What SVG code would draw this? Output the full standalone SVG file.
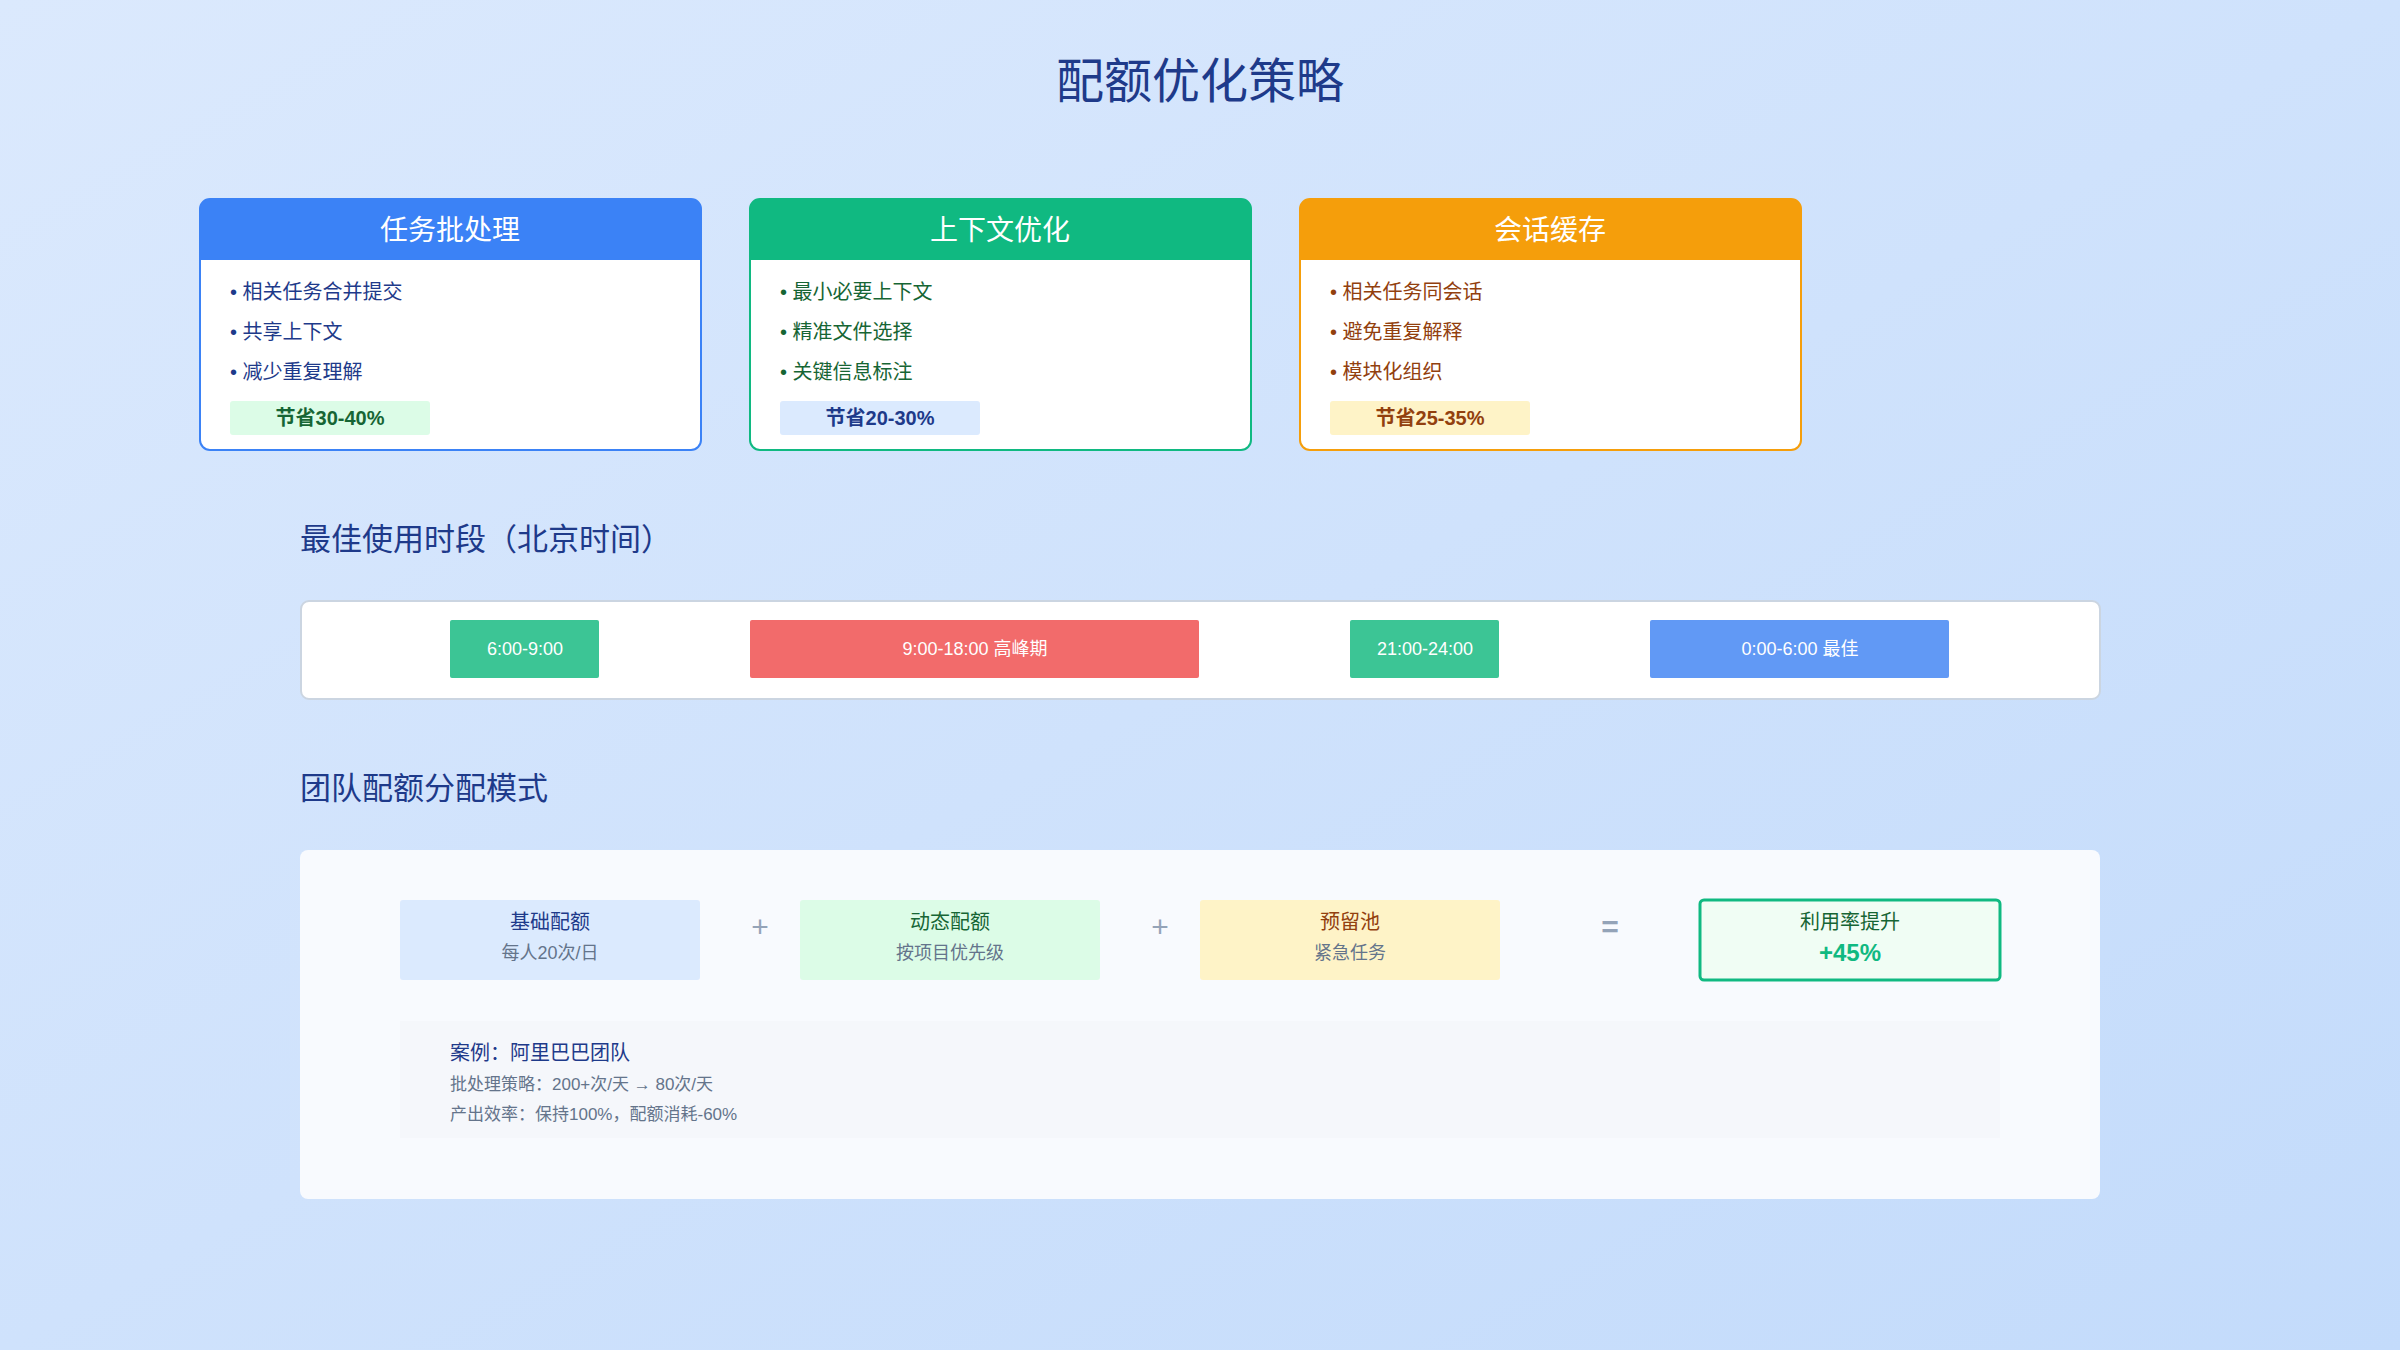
<svg xmlns="http://www.w3.org/2000/svg" width="2400" height="1350" viewBox="0 0 2400 1350">
<defs>
<linearGradient id="bg" x1="0" y1="0" x2="1" y2="1"><stop offset="0" stop-color="#dbe9fd"/><stop offset="1" stop-color="#c3dbfb"/></linearGradient>
<style>
text{font-family:"Liberation Sans","Noto Sans CJK SC",sans-serif}
.h{font-size:28px;fill:#fff;text-anchor:middle}
.b{font-size:20px}
.badge{font-size:20px;font-weight:bold;text-anchor:middle}
.sec{font-size:31px;fill:#1e3a8a}
.bar{font-size:18px;fill:#fff;text-anchor:middle}
.t1{font-size:20px;text-anchor:middle}
.t2{font-size:18px;fill:#64748b;text-anchor:middle}
.op{font-size:30px;fill:#94a3b8;text-anchor:middle}
</style>
</defs>
<rect width="2400" height="1350" fill="url(#bg)"/>
<text x="1200" y="98" font-size="48" fill="#1e3a8a" text-anchor="middle">配额优化策略</text>

<g id="card1">
<rect x="200" y="199" width="501" height="251" rx="10" fill="#fff" stroke="#3b82f6" stroke-width="2"/>
<path d="M200 260V209a10 10 0 0 1 10-10h481a10 10 0 0 1 10 10v51z" fill="#3b82f6"/>
<text class="h" x="450" y="240">任务批处理</text>
<g class="b" fill="#1e3a8a"><text x="230" y="299">• 相关任务合并提交</text><text x="230" y="339">• 共享上下文</text><text x="230" y="379">• 减少重复理解</text></g>
<rect x="230" y="401" width="200" height="34" rx="3" fill="#dcfce7"/>
<text class="badge" x="330" y="425" fill="#166534">节省30-40%</text>
</g>
<g id="card2">
<rect x="750" y="199" width="501" height="251" rx="10" fill="#fff" stroke="#10b981" stroke-width="2"/>
<path d="M750 260V209a10 10 0 0 1 10-10h481a10 10 0 0 1 10 10v51z" fill="#10b981"/>
<text class="h" x="1000" y="240">上下文优化</text>
<g class="b" fill="#166534"><text x="780" y="299">• 最小必要上下文</text><text x="780" y="339">• 精准文件选择</text><text x="780" y="379">• 关键信息标注</text></g>
<rect x="780" y="401" width="200" height="34" rx="3" fill="#dbeafe"/>
<text class="badge" x="880" y="425" fill="#1e3a8a">节省20-30%</text>
</g>
<g id="card3">
<rect x="1300" y="199" width="501" height="251" rx="10" fill="#fff" stroke="#f59e0b" stroke-width="2"/>
<path d="M1300 260V209a10 10 0 0 1 10-10h481a10 10 0 0 1 10 10v51z" fill="#f59e0b"/>
<text class="h" x="1550" y="240">会话缓存</text>
<g class="b" fill="#92400e"><text x="1330" y="299">• 相关任务同会话</text><text x="1330" y="339">• 避免重复解释</text><text x="1330" y="379">• 模块化组织</text></g>
<rect x="1330" y="401" width="200" height="34" rx="3" fill="#fef3c7"/>
<text class="badge" x="1430" y="425" fill="#92400e">节省25-35%</text>
</g>

<text class="sec" x="300" y="550">最佳使用时段（北京时间）</text>
<g id="timeline">
<rect x="301" y="601" width="1799" height="98" rx="8" fill="#fff" stroke="#cbd5e1" stroke-width="2"/>
<rect x="450" y="620" width="149" height="58" rx="2" fill="#3cc595"/><text class="bar" x="525" y="655">6:00-9:00</text>
<rect x="750" y="620" width="449" height="58" rx="2" fill="#f26b6b"/><text class="bar" x="975" y="655">9:00-18:00 高峰期</text>
<rect x="1350" y="620" width="149" height="58" rx="2" fill="#3cc595"/><text class="bar" x="1425" y="655">21:00-24:00</text>
<rect x="1650" y="620" width="299" height="58" rx="2" fill="#6199f5"/><text class="bar" x="1800" y="655">0:00-6:00 最佳</text>
</g>

<text class="sec" x="300" y="799">团队配额分配模式</text>
<rect x="300" y="850" width="1800" height="349" rx="8" fill="#f8fafe"/>
<g id="base"><rect x="400" y="900" width="300" height="80" rx="3" fill="#dbeafe"/><text class="t1" x="550" y="929" fill="#1e3a8a">基础配额</text><text class="t2" x="550" y="959">每人20次/日</text></g>
<g id="dyn"><rect x="800" y="900" width="300" height="80" rx="3" fill="#dcfce7"/><text class="t1" x="950" y="929" fill="#166534">动态配额</text><text class="t2" x="950" y="959">按项目优先级</text></g>
<g id="pool"><rect x="1200" y="900" width="300" height="80" rx="3" fill="#fef3c7"/><text class="t1" x="1350" y="929" fill="#92400e">预留池</text><text class="t2" x="1350" y="959">紧急任务</text></g>
<g id="result"><rect x="1700" y="900" width="300" height="80" rx="4" fill="#f0fdf4" stroke="#10b981" stroke-width="3"/><text class="t1" x="1850" y="929" fill="#166534">利用率提升</text><text x="1850" y="961" font-size="24" font-weight="bold" fill="#10b981" text-anchor="middle">+45%</text></g>
<g id="ops"><text class="op" x="760" y="937">+</text><text class="op" x="1160" y="937">+</text><text class="op" x="1610" y="937" font-weight="bold">=</text></g>
<g id="case"><rect x="400" y="1021" width="1600" height="117" fill="#f5f7fb"/>
<text x="450" y="1060" font-size="20" fill="#1e3a8a">案例：阿里巴巴团队</text>
<text x="450" y="1090" font-size="17" fill="#64748b">批处理策略：200+次/天 → 80次/天</text>
<text x="450" y="1120" font-size="17" fill="#64748b">产出效率：保持100%，配额消耗-60%</text></g>
</svg>
